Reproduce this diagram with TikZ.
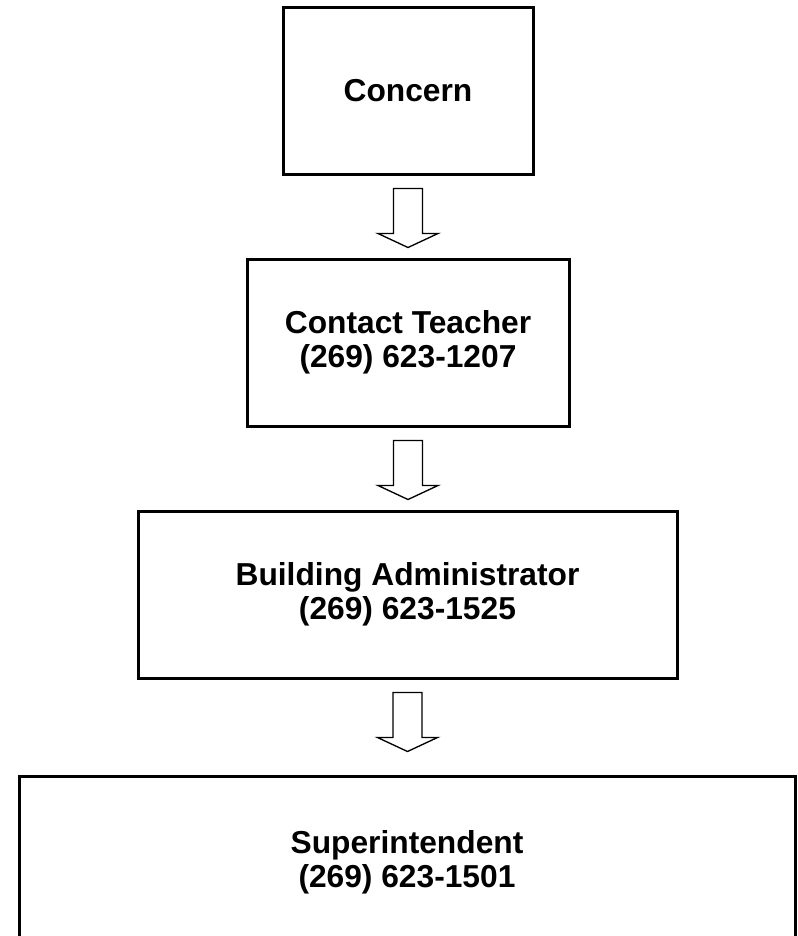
\documentclass[tikz,border=0pt]{standalone}
\usepackage{fontspec}
\setmainfont{Liberation Sans}
\usetikzlibrary{calc}

\tikzset{
	box/.style={draw, line width=2.25pt, align=center, minimum height=125.25pt,
		font=\bfseries\fontsize{23.8}{25.5}\selectfont},
	hollow/.style={draw, line width=1pt, fill=white}
}
% hollow block arrow below a box
\newcommand{\flowarrow}[1]{%
	\draw[hollow, shift={($(#1.south)+(0,13)$)}] (-14.5,0) -- (14.5,0) -- (14.5,45) -- (30,45)
		-- (0,59) -- (-30,45) -- (-14.5,45) -- cycle;}

\begin{document}
\begin{tikzpicture}[x=0.75pt,y=-0.75pt]
	\useasboundingbox (0,0) rectangle (797,936);
	\node[box, minimum width=187.5pt] (concern) at (408,90.5) {Concern};
	\node[box, minimum width=241.5pt] (teacher) at (408,342.5) {Contact Teacher\\(269) 623-1207};
	\node[box, minimum width=404.25pt] (admin) at (407.5,594.5) {Building Administrator\\(269) 623-1525};
	\node[box, minimum width=582pt, minimum height=129pt] (super) at (407,862) {Superintendent\\(269) 623-1501};
	\flowarrow{concern}
	\flowarrow{teacher}
	\flowarrow{admin}
\end{tikzpicture}
\end{document}
